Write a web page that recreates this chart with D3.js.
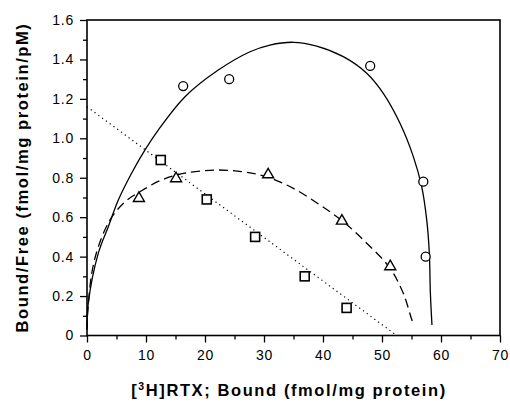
<!DOCTYPE html>
<html><head><meta charset="utf-8">
<script src="https://cdn.jsdelivr.net/npm/d3@7"></script>
<style>
html,body{margin:0;padding:0;background:#fff;}
svg text{font-family:"Liberation Sans",Arial,sans-serif;fill:#000;}
</style></head>
<body><svg id="c" width="510" height="405"></svg>
<script>
// Data
const circleX = [16.3, 24.1, 48.0, 57.0, 57.4];
const circleY = [1.265, 1.30, 1.367, 0.78, 0.40];
const triX = [8.8, 15.1, 30.7, 43.2, 51.4];
const triY = [0.70, 0.80, 0.82, 0.585, 0.354];
const squareX = [12.5, 20.3, 28.5, 36.9, 44.0];
const squareY = [0.89, 0.69, 0.50, 0.30, 0.14];
// fitted curves
const solidX = [0, 0.22, 1.92, 3.61, 5.31, 7.58, 9.83, 12.08, 16.61, 22.25, 27.63, 31.0, 34.97, 38.93, 43.44, 47.41, 50.22, 53.05, 55.31, 56.73, 57.58, 58.02, 58.2, 58.47];
const solidY = [0.03, 0.165, 0.418, 0.552, 0.687, 0.824, 0.941, 1.042, 1.211, 1.346, 1.439, 1.473, 1.487, 1.468, 1.414, 1.330, 1.228, 1.076, 0.907, 0.755, 0.586, 0.418, 0.216, 0.053];
const dashX = [0, 0.08, 0.80, 1.92, 3.90, 6.44, 8.98, 12.66, 16.61, 21.69, 26.22, 30.46, 34.97, 39.49, 43.44, 47.41, 51.36, 53.61, 55.31, 55.6];
const dashY = [0.03, 0.10, 0.315, 0.450, 0.586, 0.678, 0.729, 0.789, 0.823, 0.839, 0.831, 0.805, 0.746, 0.662, 0.577, 0.468, 0.341, 0.214, 0.062, 0.053];
const dotX = [0, 52.5];
const dotY = [1.16, 0];
const xTicks = [0, 10, 20, 30, 40, 50, 60, 70];
const yTicks = [0, 0.2, 0.4, 0.6, 0.8, 1.0, 1.2, 1.4, 1.6];
const yTickLabels = ["0", "0.2", "0.4", "0.6", "0.8", "1.0", "1.2", "1.4", "1.6"];

const svg = d3.select("#c");
const L = 87, R = 500, T = 20, B = 335.5;
const x = d3.scaleLinear().domain([0, 70]).range([L, R]);
const y = d3.scaleLinear().domain([0, 1.6]).range([B, T]);

// frame
svg.append("rect").attr("x", L).attr("y", T).attr("width", R - L).attr("height", B - T)
  .attr("fill", "none").attr("stroke", "#000").attr("stroke-width", 1.6);

// axes
const xAxis = d3.axisBottom(x).tickValues(xTicks).tickSize(7).tickPadding(8).tickFormat(d3.format("d"));
svg.append("g").attr("transform", `translate(0,${B})`).call(xAxis);
const xMinor = d3.axisBottom(x).tickValues(d3.range(5, 70, 10)).tickSize(4).tickFormat("");
svg.append("g").attr("transform", `translate(0,${B})`).call(xMinor);
const yAxis = d3.axisLeft(y).tickValues(yTicks).tickSize(7).tickPadding(6).tickFormat((d, i) => yTickLabels[i]);
svg.append("g").attr("transform", `translate(${L},0)`).call(yAxis);
const yMinor = d3.axisLeft(y).tickValues(d3.range(0.1, 1.6, 0.2)).tickSize(4).tickFormat("");
svg.append("g").attr("transform", `translate(${L},0)`).call(yMinor);
svg.selectAll(".domain").remove();
svg.selectAll(".tick line").attr("stroke", "#000").attr("stroke-width", 1.3);
svg.selectAll(".tick text").attr("font-size", 14).attr("letter-spacing", 0.8)
  .attr("font-family", "Liberation Sans, Arial, sans-serif").attr("fill", "#000");

// titles
svg.append("text").attr("x", 289).attr("y", 396).attr("text-anchor", "middle")
  .attr("font-size", 16.5).attr("font-weight", "bold").attr("letter-spacing", 1.6)
  .html('[<tspan dy="-6" font-size="10.5">3</tspan><tspan dy="6">H]RTX; Bound (fmol/mg protein)</tspan>');
svg.append("text").attr("transform", `translate(28,177.5) rotate(-90)`).attr("text-anchor", "middle")
  .attr("font-size", 16.5).attr("font-weight", "bold").attr("letter-spacing", 1.6)
  .text("Bound/Free (fmol/mg protein/pM)");

// curves
const line = d3.line().x(d => x(d[0])).y(d => y(d[1])).curve(d3.curveCatmullRom.alpha(0.5));
svg.append("path").datum(solidX.map((v, i) => [v, solidY[i]])).attr("d", line)
  .attr("fill", "none").attr("stroke", "#000").attr("stroke-width", 1.3);
svg.append("path").datum(dashX.map((v, i) => [v, dashY[i]])).attr("d", line)
  .attr("fill", "none").attr("stroke", "#000").attr("stroke-width", 1.3).attr("stroke-dasharray", "9,5");
svg.append("path").datum(dotX.map((v, i) => [v, dotY[i]])).attr("d", d3.line().x(d => x(d[0])).y(d => y(d[1])))
  .attr("fill", "none").attr("stroke", "#000").attr("stroke-width", 1.2).attr("stroke-dasharray", "1.2,3.5");

// markers
svg.append("g").selectAll("circle").data(circleX).join("circle")
  .attr("cx", d => x(d)).attr("cy", (d, i) => y(circleY[i])).attr("r", 4.5)
  .attr("fill", "#fff").attr("stroke", "#000").attr("stroke-width", 1.3);
svg.append("g").selectAll("rect").data(squareX).join("rect")
  .attr("x", d => x(d) - 4.5).attr("y", (d, i) => y(squareY[i]) - 4.5).attr("width", 9).attr("height", 9)
  .attr("fill", "#fff").attr("stroke", "#000").attr("stroke-width", 1.6);
svg.append("g").selectAll("path").data(triX).join("path")
  .attr("d", (d, i) => { const cx = x(d), cy = y(triY[i]); return `M${cx},${cy - 5.5}L${cx + 5.5},${cy + 4}L${cx - 5.5},${cy + 4}Z`; })
  .attr("fill", "#fff").attr("stroke", "#000").attr("stroke-width", 1.4);
</script></body></html>
